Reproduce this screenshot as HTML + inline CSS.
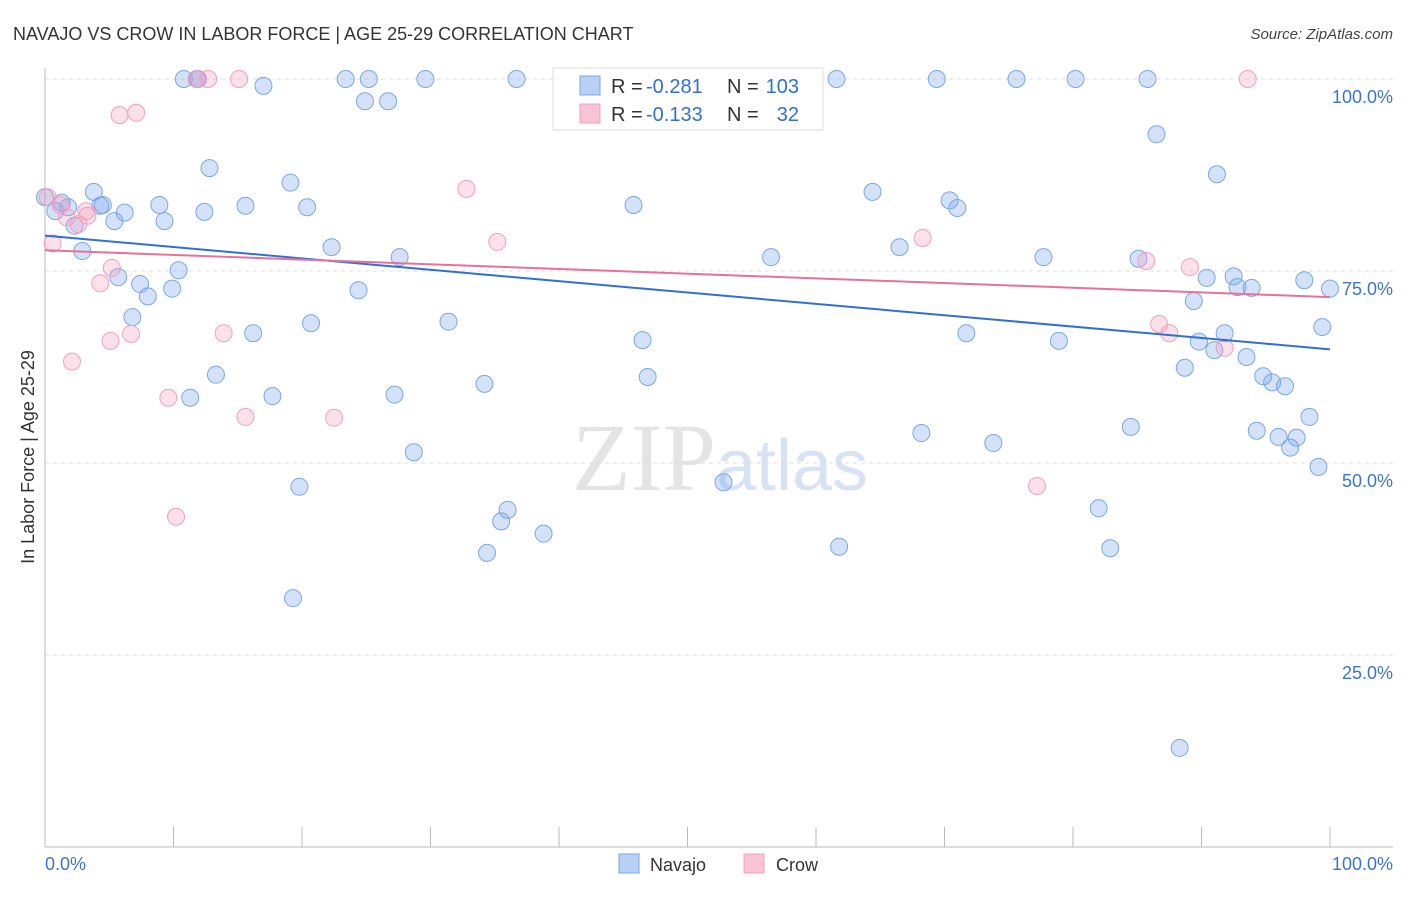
<!DOCTYPE html>
<html><head><meta charset="utf-8"><style>
body{margin:0;background:#fff;font-family:"Liberation Sans",sans-serif}
</style></head><body>
<svg width="1406" height="892" xmlns="http://www.w3.org/2000/svg" font-family="Liberation Sans, sans-serif">
<text x="13" y="40" font-size="18" fill="#333">NAVAJO VS CROW IN LABOR FORCE | AGE 25-29 CORRELATION CHART</text>
<text x="1393" y="39" font-size="15" fill="#444" text-anchor="end" font-style="italic">Source: ZipAtlas.com</text>
<text x="720" y="490" font-size="96" fill="#e4e4e4" text-anchor="middle" font-family="Liberation Serif">ZIP<tspan fill="#d7e3f3" font-family="Liberation Sans" font-size="72">atlas</tspan></text>
<g id="grid"></g>
<g id="marks"></g>
<text transform="translate(34,457) rotate(-90)" font-size="18" fill="#333" text-anchor="middle">In Labor Force | Age 25-29</text>
<text x="45" y="870" font-size="18" fill="#3b73d1">0.0%</text>
<text x="1393" y="870" font-size="18" fill="#3b73d1" text-anchor="end">100.0%</text>
<g font-size="20">
<rect x="553" y="68" width="270" height="62" fill="#fff" stroke="#ddd"/>
<rect x="580" y="76" width="20" height="19" fill="#b8d0f4" stroke="#7aa6e6"/>
<rect x="580" y="104" width="20" height="19" fill="#f8c4d4" stroke="#f0a0bc"/>
<text x="611" y="93" fill="#333">R =</text>
<text x="646" y="93" fill="#2f6fd6">-0.281</text>
<text x="727" y="93" fill="#333">N =</text>
<text x="799" y="93" fill="#2f6fd6" text-anchor="end">103</text>
<text x="611" y="121" fill="#333">R =</text>
<text x="646" y="121" fill="#2f6fd6">-0.133</text>
<text x="727" y="121" fill="#333">N =</text>
<text x="799" y="121" fill="#2f6fd6" text-anchor="end">32</text>
</g>
<g>
<rect x="619" y="854" width="20" height="19" fill="#b8d0f4" stroke="#7aa6e6"/>
<text x="650" y="871" font-size="18" fill="#333">Navajo</text>
<rect x="744" y="854" width="20" height="19" fill="#f8c4d4" stroke="#f0a0bc"/>
<text x="776" y="871" font-size="18" fill="#333">Crow</text>
</g>
</svg>
<script>
const yTicks=[100,75,50,25];
const yTickLabels=["100.0%","75.0%","50.0%","25.0%"];
const navajoX=[0,0.8,1.3,1.8,2.3,2.9,3.8,4.3,4.5,5.4,6.2,5.7,6.8,7.4,8.0,8.9,9.3,9.9,10.4,10.8,11.3,11.8,11.9,12.4,12.8,13.3,15.6,16.2,17.0,17.7,19.1,19.3,19.8,20.4,20.7,22.3,23.4,24.4,24.9,25.2,26.7,27.2,27.6,28.7,29.6,31.4,34.2,34.4,35.5,36.0,36.7,38.8,40.5,45.8,46.5,46.9,52.8,56.5,58.1,61.8,61.6,64.4,66.5,68.2,69.4,70.4,71.0,71.7,73.8,75.6,77.7,78.9,80.2,82.0,82.9,84.5,85.1,85.8,86.5,88.7,88.3,89.4,89.8,90.4,91.0,91.2,91.8,92.5,92.8,93.5,93.9,94.3,94.8,95.5,96.0,96.5,96.9,97.4,98.0,98.4,99.1,99.4,100];
const navajoY=[84.6,82.8,83.9,83.3,80.9,77.6,85.3,83.5,83.6,81.5,82.6,74.2,69.0,73.3,71.7,83.6,81.5,72.7,75.1,100,58.5,100,100,82.7,88.4,61.5,83.5,66.9,99.1,58.7,86.5,32.4,46.9,83.3,68.2,78.1,100,72.5,97.1,100,97.1,58.9,76.8,51.4,100,68.4,60.3,38.3,42.4,43.9,100,40.8,100,83.6,66.0,61.2,47.5,76.8,100,39.1,100,85.3,78.1,53.9,100,84.2,83.2,66.9,52.6,100,76.8,65.9,100,44.1,38.9,54.7,76.6,100,92.8,62.4,12.9,71.1,65.8,74.1,64.7,87.6,66.9,74.3,72.9,63.8,72.8,54.2,61.3,60.5,53.4,60.0,52.0,53.3,73.8,56.0,49.5,67.7,72.7];
const crowX=[0.2,0.6,1.2,1.7,2.1,2.6,3.2,3.3,4.3,5.1,5.2,5.8,6.7,7.1,9.6,10.2,11.8,12.7,13.9,15.1,15.6,22.5,32.8,35.2,68.3,77.2,85.7,86.7,87.5,89.1,91.8,93.6];
const crowY=[84.6,78.6,83.6,82.0,63.2,81.1,82.8,82.2,73.4,65.9,75.4,95.3,66.8,95.6,58.5,43.0,100,100,66.9,100,56.0,55.9,85.7,78.8,79.3,47.0,76.3,68.1,66.9,75.5,65.0,100];
const navajoTrend=[79.6,64.8];
const crowTrend=[77.7,71.6];
const NS="http://www.w3.org/2000/svg";
const X0=45,X1=1330,Y100=79,Y0=847;
const sx=v=>X0+(X1-X0)*v/100;
const sy=v=>Y0-(Y0-Y100)*v/100;
function mk(t,a,p){const e=document.createElementNS(NS,t);for(const k in a)e.setAttribute(k,a[k]);p.appendChild(e);return e;}
const grid=document.getElementById('grid'),marks=document.getElementById('marks');
yTicks.forEach((t,i)=>{
 const l=mk('line',{x1:45,x2:1393,y1:sy(t),y2:sy(t),stroke:'#ddd','stroke-dasharray':'4 4'},grid);
 
 
 const tx=mk('text',{x:1393,y:sy(t)+24,'font-size':18,fill:'#3b73d1','text-anchor':'end'},grid);
 tx.textContent=yTickLabels[i];
 
 
});
const ax=mk('line',{x1:45,x2:45,y1:68,y2:847,stroke:'#bbb'},grid);


const bx=mk('line',{x1:45,x2:1393,y1:847,y2:847,stroke:'#bbb'},grid);


for(let i=0;i<=10;i++){
 const t=mk('line',{x1:sx(i*10),x2:sx(i*10),y1:827,y2:847,stroke:'#bbb'},grid);
 
 
}
function pts(xs,ys,fill,stroke,name){
 xs.forEach((x,i)=>{
  const c=mk('circle',{cx:sx(x),cy:sy(ys[i]),r:8.5,fill:fill,stroke:stroke,'stroke-width':1},marks);
  
  
 });
}
pts(navajoX,navajoY,'rgba(120,165,235,0.32)','#7aa6e6','navajo-point');
pts(crowX,crowY,'rgba(245,160,190,0.32)','#f0a0bc','crow-point');
const l1=mk('line',{x1:sx(0),x2:sx(100),y1:sy(navajoTrend[0]),y2:sy(navajoTrend[1]),stroke:'#2f6fd6','stroke-width':2},marks);


const l2=mk('line',{x1:sx(0),x2:sx(100),y1:sy(crowTrend[0]),y2:sy(crowTrend[1]),stroke:'#e8709a','stroke-width':2},marks);


</script>
</body></html>
